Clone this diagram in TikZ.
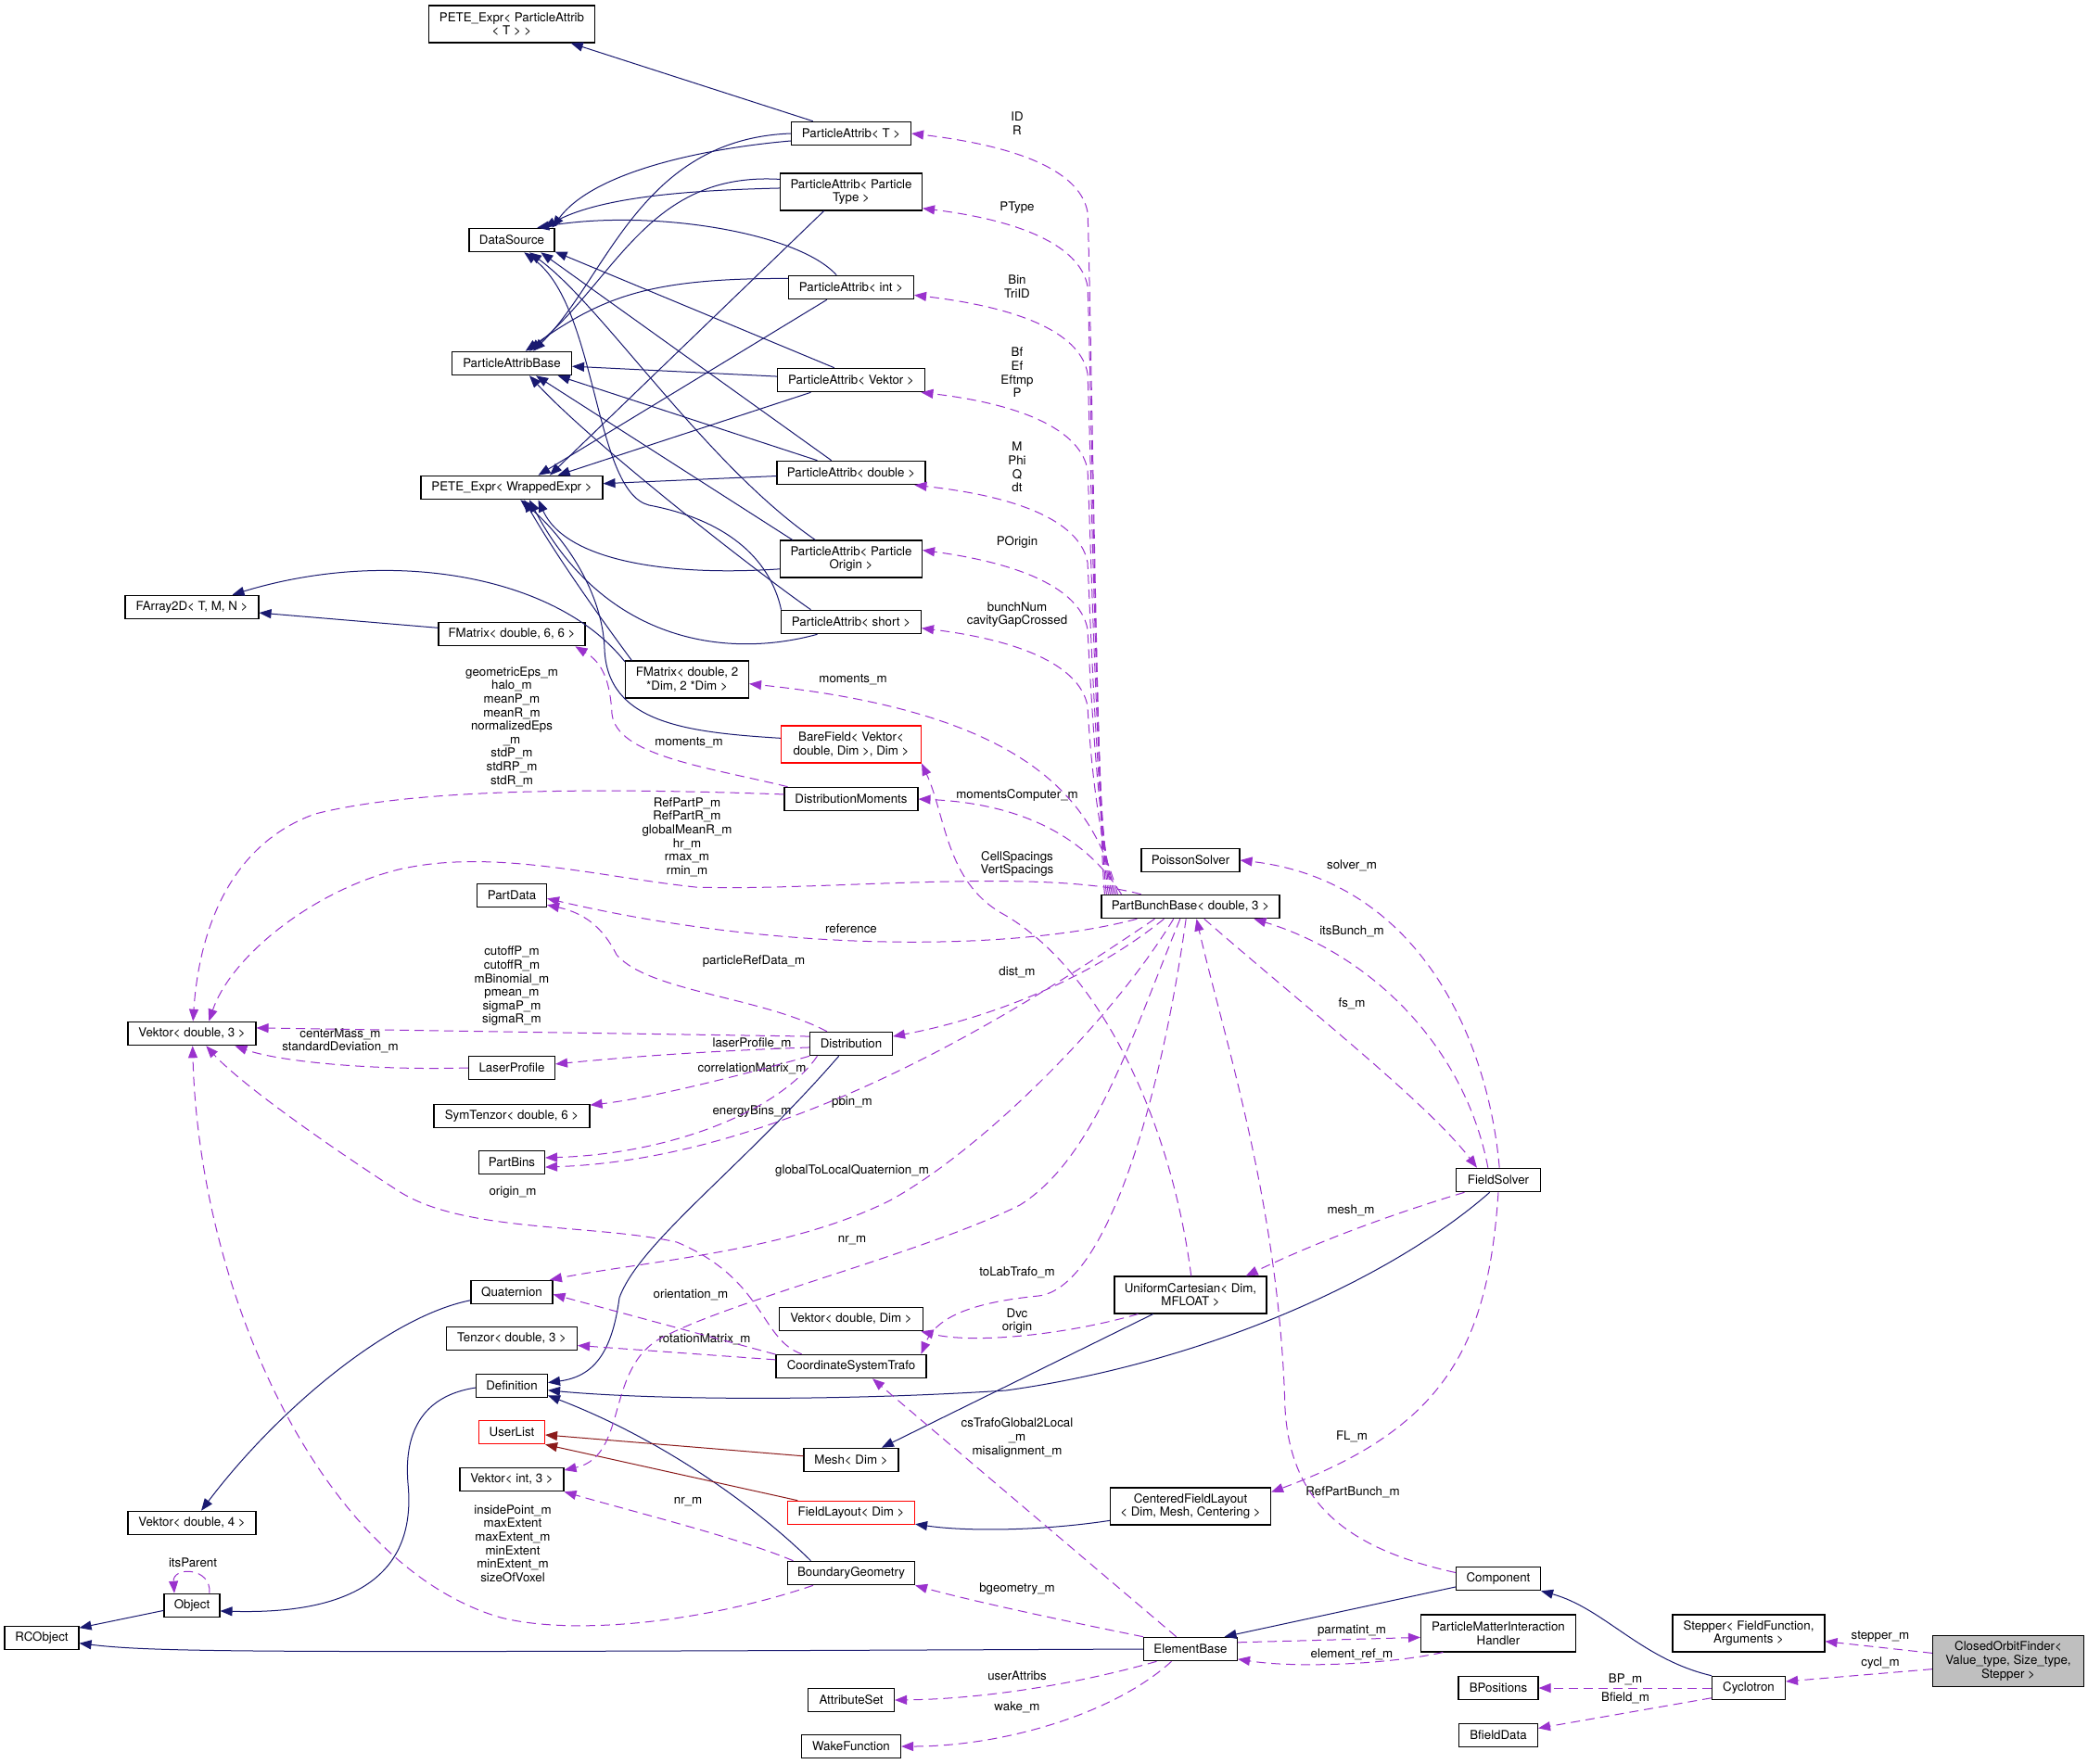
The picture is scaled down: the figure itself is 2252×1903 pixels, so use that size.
\documentclass[tikz,border=0pt]{standalone}
\usepackage{fontspec}
\setmainfont{TeX Gyre Heros}
\usetikzlibrary{arrows.meta}
\definecolor{doxblue}{HTML}{191970}
\definecolor{doxpurple}{HTML}{9A32CD}
\definecolor{doxred}{HTML}{8B1A1A}

\begin{document}
\begin{tikzpicture}[
    x=1pt, y=-1pt,
    font=\fontsize{13.3}{14.6}\selectfont,
    cls/.style={draw=black, line width=1.1pt, minimum height=25.5pt, inner xsep=3pt, inner ysep=2pt, align=center},
    two/.style={minimum height=40pt},
    redcls/.style={cls, draw=red},
    inh/.style={draw=doxblue, line width=1pt, -{Triangle[length=13pt,width=10pt]}},
    priv/.style={inh, draw=doxred},
    use/.style={draw=doxpurple, line width=1pt, dash pattern=on 10pt off 6pt, -{Triangle[length=13pt,width=10pt]}},
    lbl/.style={align=center, inner sep=0pt}
]

% Canvas
\fill[white] (0,0) rectangle (2252,1903);

% Particle attribute classes
\node[cls, two, minimum width=179pt] (PETEPA) at (552,26) {PETE\_Expr< ParticleAttrib\\< T > >};
\node[cls, minimum width=92pt] (DS) at (552,259) {DataSource};
\node[cls, minimum width=129pt] (PAB) at (552,392) {ParticleAttribBase};
\node[cls, minimum width=196pt] (PETEWE) at (552,526) {PETE\_Expr< WrappedExpr >};
\node[cls, minimum width=129pt] (PAT) at (918,144) {ParticleAttrib< T >};
\node[cls, two, minimum width=153pt] (PAPType) at (918,207) {ParticleAttrib< Particle\\Type >};
\node[cls, minimum width=135pt] (PAInt) at (918,310) {ParticleAttrib< int >};
\node[cls, minimum width=159pt] (PAVektor) at (918,410) {ParticleAttrib< Vektor >};
\node[cls, minimum width=160pt] (PADouble) at (918,510) {ParticleAttrib< double >};
\node[cls, two, minimum width=153pt] (PAPOrigin) at (918,603) {ParticleAttrib< Particle\\Origin >};
\node[cls, minimum width=151pt] (PAShort) at (918,671) {ParticleAttrib< short >};

% Matrices and fields
\node[cls, minimum width=144pt] (FArray) at (207,655) {FArray2D< T, M, N >};
\node[cls, minimum width=158pt] (FMat66) at (552,684) {FMatrix< double, 6, 6 >};
\node[cls, two, minimum width=133pt] (FMat2D) at (741,733) {FMatrix< double, 2\\*Dim, 2 *Dim >};
\node[redcls, two, minimum width=151pt] (BareField) at (918,803) {BareField< Vektor<\\double, Dim >, Dim >};
\node[cls, minimum width=144pt] (DistMom) at (918,862) {DistributionMoments};
\node[cls, minimum width=106pt] (Poisson) at (1284,928) {PoissonSolver};
\node[cls, minimum width=192pt] (PBB) at (1284,978) {PartBunchBase< double, 3 >};

% Distribution side
\node[cls, minimum width=138pt] (Vek3) at (207,1115) {Vektor< double, 3 >};
\node[cls, minimum width=75pt] (PartData) at (552,966) {PartData};
\node[cls, minimum width=93pt] (Laser) at (552,1152) {LaserProfile};
\node[cls, minimum width=168pt] (SymTen) at (552,1204) {SymTenzor< double, 6 >};
\node[cls, minimum width=71pt] (PartBins) at (552,1254) {PartBins};
\node[cls, minimum width=89pt] (Dist) at (918,1126) {Distribution};
\node[cls, minimum width=91pt] (FSolver) at (1616,1273) {FieldSolver};

% Geometry and definitions
\node[cls, minimum width=88pt] (Quat) at (552,1394) {Quaternion};
\node[cls, minimum width=141pt] (Tenzor) at (552,1444) {Tenzor< double, 3 >};
\node[cls, minimum width=77pt] (Defn) at (552,1495) {Definition};
\node[redcls, minimum width=71pt] (UserList) at (552,1545) {UserList};
\node[cls, minimum width=112pt] (VekInt) at (552,1596) {Vektor< int, 3 >};
\node[cls, minimum width=138pt] (Vek4) at (207,1643) {Vektor< double, 4 >};
\node[cls, minimum width=60pt] (Object) at (207,1732) {Object};
\node[cls, minimum width=80pt] (RCObj) at (45,1767) {RCObject};
\node[cls, minimum width=155pt] (VekDim) at (918,1423) {Vektor< double, Dim >};
\node[cls, minimum width=162pt] (CSTrafo) at (918,1474) {CoordinateSystemTrafo};
\node[cls, two, minimum width=164pt] (UCart) at (1284,1397) {UniformCartesian< Dim,\\MFLOAT >};
\node[cls, minimum width=102pt] (Mesh) at (918,1575) {Mesh< Dim >};
\node[redcls, minimum width=137pt] (FLayout) at (918,1632) {FieldLayout< Dim >};
\node[cls, two, minimum width=173pt] (CFL) at (1284,1625) {CenteredFieldLayout\\< Dim, Mesh, Centering >};
\node[cls, minimum width=137pt] (BGeom) at (918,1697) {BoundaryGeometry};

% Beamline elements
\node[cls, minimum width=101pt] (EBase) at (1284,1779) {ElementBase};
\node[cls, minimum width=93pt] (AttrSet) at (918,1834) {AttributeSet};
\node[cls, minimum width=107pt] (Wake) at (918,1884) {WakeFunction};
\node[cls, minimum width=91pt] (Comp) at (1616,1703) {Component};
\node[cls, two, minimum width=167pt] (PMIH) at (1616,1762) {ParticleMatterInteraction\\Handler};
\node[cls, minimum width=86pt] (BPos) at (1616,1821) {BPositions};
\node[cls, minimum width=85pt] (BData) at (1616,1872) {BfieldData};
\node[cls, two, minimum width=164pt] (Stepper) at (1886,1762) {Stepper< FieldFunction,\\Arguments >};
\node[cls, minimum width=79pt] (Cyclo) at (1886,1821) {Cyclotron};
\node[cls, fill=black!25, minimum width=163pt, minimum height=55pt] (COF) at (2166,1792) {ClosedOrbitFinder<\\ Value\_type, Size\_type,\\Stepper >};

% Edge labels
\node[lbl] (lIDR) at (1097,133) {ID\\R};
\node[lbl] (lPType) at (1097,224) {PType};
\node[lbl] (lBin) at (1097,309) {Bin\\TriID};
\node[lbl] (lBf) at (1097,402) {Bf\\Ef\\Eftmp\\P};
\node[lbl] (lM) at (1097,504) {M\\Phi\\Q\\dt};
\node[lbl] (lPOrigin) at (1097,585) {POrigin};
\node[lbl] (lBunchNum) at (1097,663) {bunchNum\\cavityGapCrossed};
\node[lbl] (lMomPBB) at (920,733) {moments\_m};
\node[lbl] (lMomDM) at (743,801) {moments\_m};
\node[lbl] (lGeomEps) at (552,784) {geometricEps\_m\\halo\_m\\meanP\_m\\meanR\_m\\normalizedEps\\\_m\\stdP\_m\\stdRP\_m\\stdR\_m};
\node[lbl] (lMomComp) at (1097,858) {momentsComputer\_m};
\node[lbl] (lRefPart) at (741,903) {RefPartP\_m\\RefPartR\_m\\globalMeanR\_m\\hr\_m\\rmax\_m\\rmin\_m};
\node[lbl] (lCellSp) at (1097,932) {CellSpacings\\VertSpacings};
\node[lbl] (lSolver) at (1458,934) {solver\_m};
\node[lbl] (lRef) at (918,1002) {reference};
\node[lbl] (lItsBunch) at (1458,1005) {itsBunch\_m};
\node[lbl] (lPartRef) at (813,1037) {particleRefData\_m};
\node[lbl] (lDist) at (1097,1049) {dist\_m};
\node[lbl] (lCutoff) at (552,1064) {cutoffP\_m\\cutoffR\_m\\mBinomial\_m\\pmean\_m\\sigmaP\_m\\sigmaR\_m};
\node[lbl] (lFs) at (1458,1083) {fs\_m};
\node[lbl] (lCenter) at (367,1123) {centerMass\_m\\standardDeviation\_m};
\node[lbl] (lLaser) at (811,1126) {laserProfile\_m};
\node[lbl] (lCorr) at (811,1153) {correlationMatrix\_m};
\node[lbl] (lPbin) at (919,1189) {pbin\_m};
\node[lbl] (lEnergy) at (811,1199) {energyBins\_m};
\node[lbl] (lQuat) at (919,1263) {globalToLocalQuaternion\_m};
\node[lbl] (lOrigin) at (553,1286) {origin\_m};
\node[lbl] (lMesh) at (1457,1306) {mesh\_m};
\node[lbl] (lNrPBB) at (919,1338) {nr\_m};
\node[lbl] (lToLab) at (1097,1373) {toLabTrafo\_m};
\node[lbl] (lOrient) at (745,1397) {orientation\_m};
\node[lbl] (lDvc) at (1097,1425) {Dvc\\origin};
\node[lbl] (lRot) at (760,1445) {rotationMatrix\_m};
\node[lbl] (lFL) at (1458,1550) {FL\_m};
\node[lbl] (lCsTrafo) at (1097,1551) {csTrafoGlobal2Local\\\_m\\misalignment\_m};
\node[lbl] (lRefPB) at (1459,1610) {RefPartBunch\_m};
\node[lbl] (lNrBG) at (742,1620) {nr\_m};
\node[lbl] (lInside) at (553,1665) {insidePoint\_m\\maxExtent\\maxExtent\_m\\minExtent\\minExtent\_m\\sizeOfVoxel};
\node[lbl] (lItsParent) at (208,1686) {itsParent};
\node[lbl] (lBgeom) at (1097,1714) {bgeometry\_m};
\node[lbl] (lParmat) at (1458,1759) {parmatint\_m};
\node[lbl] (lStepper) at (2028,1765) {stepper\_m};
\node[lbl] (lElemRef) at (1458,1785) {element\_ref\_m};
\node[lbl] (lCycl) at (2028,1794) {cycl\_m};
\node[lbl] (lUserAttr) at (1097,1808) {userAttribs};
\node[lbl] (lBP) at (1753,1812) {BP\_m};
\node[lbl] (lBfield) at (1753,1832) {Bfield\_m};
\node[lbl] (lWake) at (1097,1842) {wake\_m};

% Inheritance of the ParticleAttrib family
\draw[inh] (PAT) -- (PETEPA);
\draw[inh] (PAT.187) .. controls (760,160) and (640,185) .. (DS.17);
\draw[inh] (PAT.180) .. controls (690,150) and (655,300) .. (PAB.30);
\draw[inh] (PAPType.177) .. controls (760,205) and (650,210) .. (DS.21);
\draw[inh] (PAPType.170) .. controls (700,185) and (665,300) .. (PAB.35);
\draw[inh] (PAPType.215) -- (PETEWE.18);
\draw[inh] (PAInt.140) .. controls (860,250) and (700,225) .. (DS.26);
\draw[inh] (PAInt.172) .. controls (700,300) and (650,320) .. (PAB.42);
\draw[inh] (PAInt.207) -- (PETEWE.25);
\draw[inh] (PAVektor.144) -- (DS.345);
\draw[inh] (PAVektor) -- (PAB);
\draw[inh] (PAVektor.197) -- (PETEWE.15);
\draw[inh] (PADouble.148) -- (DS.337);
\draw[inh] (PADouble.160) -- (PAB.345);
\draw[inh] (PADouble) -- (PETEWE);
\draw[inh] (PAPOrigin.152) .. controls (760,500) and (650,330) .. (DS.325);
\draw[inh] (PAPOrigin.162) -- (PAB.333);
\draw[inh] (PAPOrigin.188) .. controls (720,622) and (610,605) .. (PETEWE.335);
\draw[inh] (PAShort.170) .. controls (830,600) and (780,560) .. (700,545) .. controls (640,530) and (645,330) .. (DS.315);
\draw[inh] (PAShort.163) .. controls (820,620) and (640,480) .. (PAB.325);
\draw[inh] (PAShort.200) .. controls (780,712) and (650,690) .. (PETEWE.325);
\draw[inh] (FMat2D.164) .. controls (600,620) and (420,590) .. (FArray.17);
\draw[inh] (FMat2D.161) .. controls (650,670) and (600,600) .. (PETEWE.315);
\draw[inh] (BareField.175) .. controls (740,790) and (655,780) .. (652,700) .. controls (650,640) and (610,580) .. (PETEWE.305);
\draw[inh] (FMat66) -- (FArray);

% Inheritance, lower part
\draw[inh] (Quat) .. controls (420,1420) and (300,1520) .. (Vek4);
\draw[inh] (Dist.225) .. controls (800,1260) and (690,1340) .. (668,1400) .. controls (660,1460) and (640,1485) .. (Defn.5);
\draw[inh] (FSolver.235) .. controls (1500,1380) and (1300,1470) .. (1085,1500) .. controls (900,1512) and (700,1510) .. (Defn.353);
\draw[inh] (BGeom.163) .. controls (820,1630) and (720,1555) .. (Defn.345);
\draw[inh] (Defn.183) .. controls (460,1505) and (435,1540) .. (440,1600) .. controls (450,1700) and (380,1742) .. (Object.349);
\draw[inh] (Object.190) -- (RCObj.15);
\draw[inh] (EBase.west) .. controls (300,1783) and (170,1783) .. (RCObj.352);
\draw[inh] (Comp.191) -- (EBase.20);
\draw[inh] (Cyclo.north west) .. controls (1770,1790) and (1730,1735) .. (Comp.south east);
\draw[inh] (UCart.207) -- (Mesh.22);
\draw[inh] (CFL.190) .. controls (1120,1652) and (1040,1652) .. (FLayout.350);
\draw[priv] (Mesh) -- (UserList);
\draw[priv] (FLayout.167) -- (UserList.south east);

% Members of PartBunchBase
\draw[use] ([xshift=4pt]PBB.north west) .. controls (1184,900) and (1176,284) .. (1173,229) .. controls (1166,189) and (1110,159) .. (PAT.east);
\draw[use] ([xshift=6pt]PBB.north west) .. controls (1184,900) and (1176,364) .. (1173,309) .. controls (1166,269) and (1110,239) .. (PAPType.347);
\draw[use] ([xshift=8pt]PBB.north west) .. controls (1184,900) and (1176,458) .. (1173,403) .. controls (1166,363) and (1110,333) .. (PAInt.353);
\draw[use] ([xshift=10pt]PBB.north west) .. controls (1184,900) and (1176,562) .. (1173,507) .. controls (1166,467) and (1110,437) .. (PAVektor.350);
\draw[use] ([xshift=12pt]PBB.north west) .. controls (1184,900) and (1176,662) .. (1173,607) .. controls (1166,567) and (1110,537) .. (PADouble.349);
\draw[use] ([xshift=14pt]PBB.north west) .. controls (1184,900) and (1176,734) .. (1173,679) .. controls (1166,639) and (1110,609) .. (PAPOrigin.7);
\draw[use] ([xshift=16pt]PBB.north west) .. controls (1184,900) and (1176,817) .. (1173,762) .. controls (1166,722) and (1110,692) .. (PAShort.355);
\draw[use] ([xshift=18pt]PBB.north west) .. controls (1180,870) and (1120,770) .. (FMat2D.356);
\draw[use] ([xshift=22pt]PBB.north west) .. controls (1185,925) and (1130,868) .. (DistMom.east);
\draw[use] (PBB.166) .. controls (1120,935) and (880,962) .. (750,957) .. controls (640,945) and (530,915) .. (430,938) .. controls (340,960) and (250,1030) .. (Vek3.36);
\draw[use] (PBB.193) .. controls (1100,1025) and (850,1030) .. (PartData.355);
\draw[use] (PBB.199) .. controls (1100,1090) and (850,1250) .. (PartBins.352);
\draw[use] (PBB.205) .. controls (1170,1060) and (1060,1100) .. (Dist.10);
\draw[use] (PBB.216) .. controls (1200,1100) and (1060,1240) .. (960,1295) .. controls (850,1350) and (700,1360) .. (Quat.18);
\draw[use] (PBB.230) .. controls (1220,1120) and (1180,1250) .. (1100,1300) .. controls (1000,1350) and (800,1400) .. (720,1440) .. controls (650,1470) and (680,1570) .. (VekInt.10);
\draw[use] (PBB.250) .. controls (1250,1200) and (1190,1390) .. (1120,1398) .. controls (1050,1405) and (1010,1420) .. (CSTrafo.10);
\draw[use] (PBB.318) .. controls (1400,1080) and (1540,1190) .. (FSolver.150);

% Members of the other classes
\draw[use] (DistMom.176) .. controls (650,850) and (450,850) .. (340,878) .. controls (250,910) and (215,1000) .. (Vek3.85);
\draw[use] (DistMom.169) .. controls (760,827) and (665,815) .. (660,770) .. controls (658,735) and (650,715) .. (FMat66.349);
\draw[use] (Dist.153) .. controls (820,1075) and (700,1070) .. (665,1030) .. controls (650,1000) and (630,985) .. (PartData.345);
\draw[use] (Dist.170) -- (Vek3.5);
\draw[use] (Laser.west) .. controls (400,1155) and (300,1145) .. (Vek3.344);
\draw[use] (Dist.185) .. controls (760,1134) and (680,1140) .. (Laser.5);
\draw[use] (Dist.south west) .. controls (800,1160) and (700,1185) .. (SymTen.8);
\draw[use] (Dist.200) .. controls (840,1200) and (720,1245) .. (PartBins.8);
\draw[use] (FSolver.130) .. controls (1580,1130) and (1480,1030) .. (PBB.349);
\draw[use] (FSolver.85) .. controls (1605,1120) and (1530,950) .. (Poisson.east);
\draw[use] (FSolver.200) .. controls (1500,1310) and (1420,1340) .. (UCart.19);
\draw[use] (FSolver.south) .. controls (1605,1450) and (1560,1540) .. (CFL.10);
\draw[use] (Comp.172) .. controls (1450,1670) and (1392,1620) .. (1386,1520) .. controls (1380,1300) and (1320,1120) .. (PBB.296);
\draw[use] (UCart.88) .. controls (1262,1200) and (1180,1040) .. (1080,985) .. controls (1020,950) and (1020,880) .. (BareField.south east);
\draw[use] (UCart.200) .. controls (1150,1440) and (1050,1450) .. (VekDim.350);
\draw[use] (CSTrafo.166) .. controls (820,1445) and (825,1380) .. (730,1340) .. controls (640,1320) and (500,1330) .. (430,1285) .. controls (360,1240) and (260,1170) .. (Vek3.319);
\draw[use] (CSTrafo.171) -- (Quat.357);
\draw[use] (CSTrafo.175) -- (Tenzor.354);
\draw[use] (EBase.north west) .. controls (1130,1745) and (1040,1725) .. (BGeom.south east);
\draw[use] (EBase.139) -- (CSTrafo.330);
\draw[use] (EBase.8) -- (PMIH.183);
\draw[use] (PMIH.199) .. controls (1500,1795) and (1400,1800) .. (EBase.348);
\draw[use] (EBase.200) .. controls (1150,1820) and (1050,1833) .. (AttrSet.east);
\draw[use] (EBase.213) .. controls (1200,1850) and (1080,1884) .. (Wake.east);
\draw[use] (BGeom.168) .. controls (800,1660) and (680,1630) .. (VekInt.south east);
\draw[use] (BGeom.198) .. controls (760,1750) and (620,1765) .. (540,1745) .. controls (350,1690) and (215,1400) .. (Vek3.273);
\draw[use] (Object.35) .. controls (228,1690) and (186,1690) .. (Object.145);
\draw[use] (Cyclo) -- (BPos);
\draw[use] (Cyclo.195) -- (BData.10);
\draw[use] (COF.174) -- (Stepper.354);
\draw[use] (COF.186) -- (Cyclo.10);

\end{tikzpicture}
\end{document}
